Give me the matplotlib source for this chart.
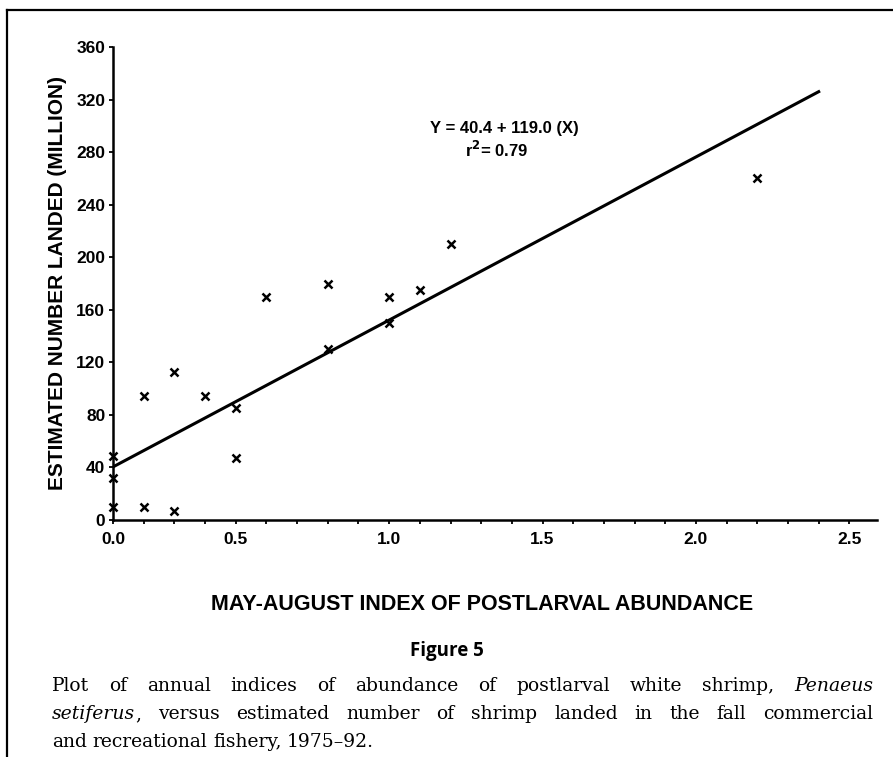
import numpy as np
import matplotlib
matplotlib.use("Agg")
import matplotlib.pyplot as plt
from matplotlib.lines import Line2D

# data
index_x = [0.0, 0.0, 0.0, 0.125, 0.125, 0.25, 0.25, 0.375, 0.5, 0.5,
           0.6, 0.8, 0.8, 1.0, 1.0, 1.1, 1.2, 2.2]
landed_y = [49, 32, 10, 94, 10, 113, 7, 94, 85, 47,
            170, 180, 130, 170, 150, 175, 210, 260]
intercept = 40.4
slope = 119.0
fit_range = [0.0, 2.4]
y_ticks = list(range(0, 361, 40))
x_ticks = [0.0, 0.5, 1.0, 1.5, 2.0, 2.5]
x_minor = [0.125, 0.25, 0.375] + [round(v, 1) for v in np.arange(0.6, 2.51, 0.1)]

caption_lines = [
    "Plot of annual indices of abundance of postlarval white shrimp, *Penaeus*",
    "*setiferus*, versus estimated number of shrimp landed in the fall commercial",
    "and recreational fishery, 1975\u201392.",
]

SANS = "Liberation Sans"


# the printed axis squeezes 0.0-0.5 into four minor steps
def fwd(x):
    x = np.asarray(x, dtype=float)
    return np.where(x < 0.5, 0.8 * x, x - 0.1)


def inv(u):
    u = np.asarray(u, dtype=float)
    return np.where(u < 0.4, u / 0.8, u + 0.1)


W, H = 893, 757
fig = plt.figure(figsize=(W / 100, H / 100), dpi=100)
ax = fig.add_axes([113 / W, 1 - 520 / H, 764 / W, 473 / H])
ax.set_xscale("function", functions=(fwd, inv))

ax.plot(index_x, landed_y, "x", color="black", ms=5.5, mew=1.8, clip_on=False)
fit_y = [intercept + slope * v for v in fit_range]
ax.plot(fit_range, fit_y, color="black", lw=2.2)

ax.set_xlim(0, 2.59)
ax.set_ylim(0, 360)
for s in ["top", "right"]:
    ax.spines[s].set_visible(False)
for s in ["left", "bottom"]:
    ax.spines[s].set_linewidth(1.8)

ax.set_yticks(y_ticks)
ax.set_yticklabels([str(v) for v in y_ticks])
ax.set_xticks(x_ticks)
ax.set_xticklabels(["%.1f" % v for v in x_ticks])
ax.set_xticks(x_minor, minor=True)
ax.tick_params(axis="both", which="both", direction="out", length=3, width=1.3)
ax.tick_params(axis="x", which="major", pad=6)
ax.tick_params(axis="y", which="major", pad=2.5)
for lab in ax.get_xticklabels() + ax.get_yticklabels():
    lab.set_fontfamily(SANS)
    lab.set_fontweight("bold")
    lab.set_fontsize(12.5)

ax.set_ylabel("ESTIMATED NUMBER LANDED (MILLION)", family=SANS, weight="bold",
              fontsize=15, labelpad=7)
ax.set_xlabel("MAY-AUGUST INDEX OF POSTLARVAL ABUNDANCE", family=SANS,
              weight="bold", fontsize=15.5, va="center")
ax.xaxis.set_label_coords((482 - 113) / 764, -(604 - 520) / 473)

ax.text(1.377, 298, "Y = 40.4 + 119.0 (X)", family=SANS, weight="bold",
        fontsize=12, ha="center", va="center")
ax.text(1.35, 282, "r$^{\\mathbf{2}}$= 0.79", family=SANS, weight="bold",
        fontsize=12, ha="center", va="center")

# frame pieces left from the page
fig.add_artist(Line2D([7 / W, 1], [1 - 10 / H] * 2, color="black", lw=1.6))
fig.add_artist(Line2D([7 / W] * 2, [0, 1 - 10 / H], color="black", lw=1.6))

fig.text(447 / W, 1 - 651 / H, "Figure 5", family="Open Sans", weight="bold",
         fontsize=13.5, ha="center", va="center")

# caption, justified word by word
renderer = fig.canvas.get_renderer()
left, right = 52, 873
baselines = [691, 719, 747]
cap_size = 13.5


def make_word(word):
    parts = []
    italic = False
    for i, seg in enumerate(word.split("*")):
        if i > 0:
            italic = not italic
        if seg:
            parts.append((seg, italic))
    return parts


for n, line in enumerate(caption_lines):
    words = [make_word(w) for w in line.split(" ")]
    arts = []
    total = 0
    for w in words:
        wa = []
        for seg, it in w:
            t = fig.text(0, 0, seg, family="DejaVu Serif", fontsize=cap_size,
                         style="italic" if it else "normal", va="baseline")
            wid = t.get_window_extent(renderer).width
            wa.append((t, wid))
            total += wid
        arts.append(wa)
    if n < len(caption_lines) - 1:
        gap = (right - left - total) / (len(words) - 1)
    else:
        gap = cap_size * 100 / 72 * 0.3
    x = left
    yb = 1 - baselines[n] / H
    for wa in arts:
        for t, wid in wa:
            t.set_position((x / W, yb))
            x += wid
        x += gap

fig.savefig("out.png", dpi=100)
